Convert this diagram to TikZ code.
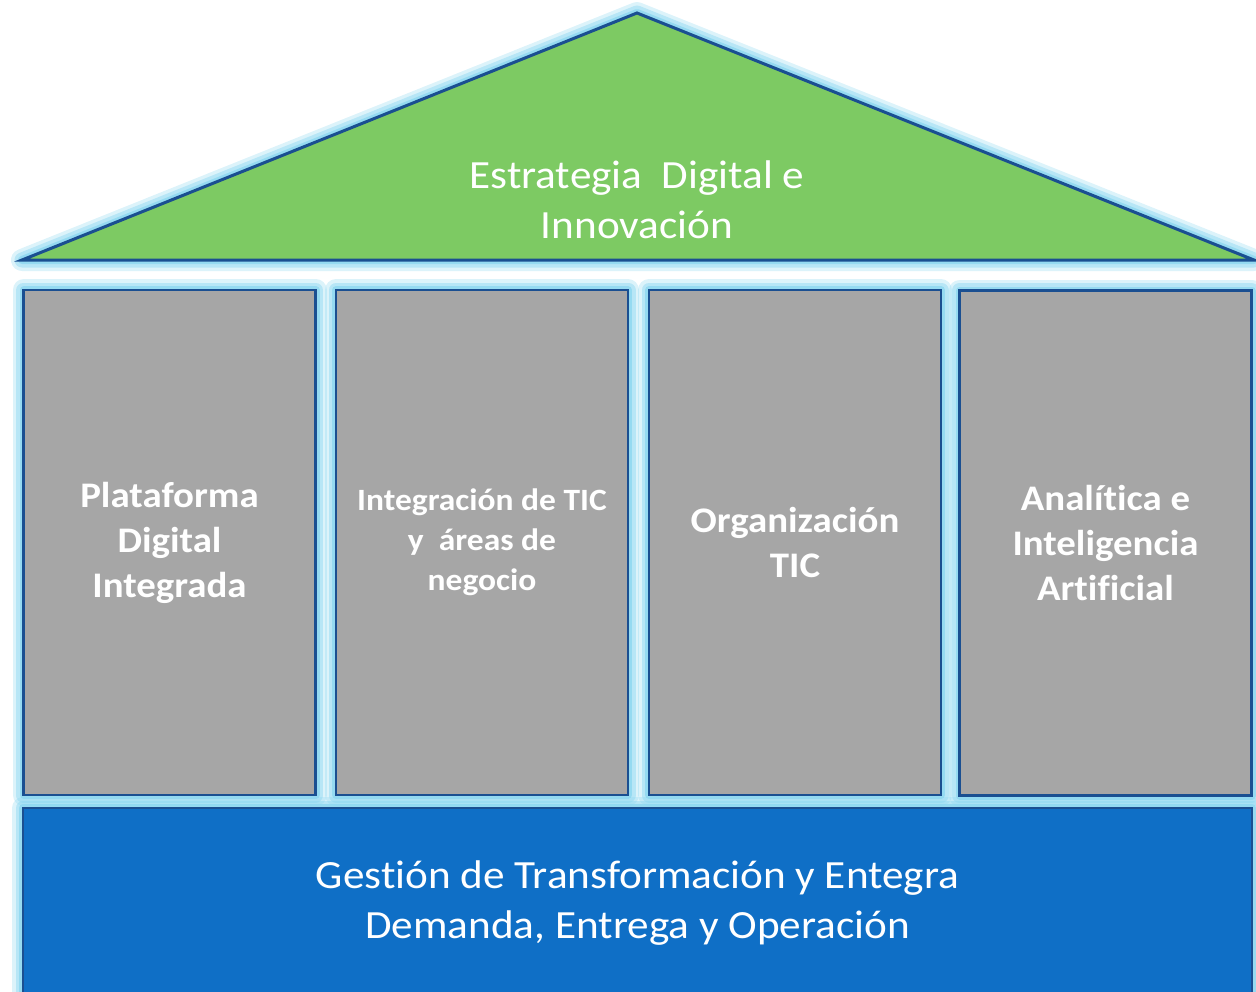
\documentclass[tikz,border=0pt]{standalone}
\usepackage{fontspec}
\setmainfont{Carlito}[FakeStretch=1.08, Ligatures=NoCommon]
\definecolor{roofgreen}{HTML}{7DCA63}
\definecolor{pillargray}{HTML}{A6A6A6}
\definecolor{basecolor}{HTML}{0F6FC6}
\definecolor{edgeblue}{HTML}{1A4F91}
\definecolor{glowblue}{HTML}{8AD6F0}
\tikzset{
  glow/.style={preaction={draw=glowblue, line width=22pt, opacity=0.3, line join=round},
               preaction={draw=glowblue, line width=15pt, opacity=0.45, line join=round},
               preaction={draw=glowblue, line width=8pt, opacity=0.75, line join=round}},
  pillar/.style={glow, draw=edgeblue, line width=2.5pt, fill=pillargray,
                 minimum width=292pt, minimum height=505pt, inner sep=0pt,
                 text=white, align=center, font=\bfseries\fontsize{36}{45}\selectfont},
  basebar/.style={glow, draw=edgeblue, line width=2.5pt, fill=basecolor,
                  minimum width=1229pt, minimum height=190pt, inner sep=0pt,
                  text=white, align=center, font=\fontsize{40}{50}\selectfont},
  roof/.style={glow, draw=edgeblue, line width=3pt, fill=roofgreen}
}
\begin{document}
\begin{tikzpicture}[x=1pt, y=-1pt]
  \useasboundingbox (0,0) rectangle (1256,991);
  \clip (0,0) rectangle (1256,991);
  % roof
  \draw[roof] (22,260) -- (637,13) -- (1254,260) -- cycle;
  \node[text=white, align=center, font=\fontsize{40}{50}\selectfont] (estrategia) at (637,200) {Estrategia\ \ Digital e\\Innovación};
  % pillars
  \node[pillar] (plataforma) at (169.5,542.5) {Plataforma\\Digital\\Integrada};
  \node[pillar, font=\bfseries\fontsize{31}{40}\selectfont] (integracion) at (482,542.5) {Integración de TIC\\y\ \ áreas de\\negocio};
  \node[pillar] (organizacion) at (795,542.5) {Organización\\TIC};
  \node[pillar] (analitica) at (1105.5,543) {Analítica e\\Inteligencia\\Artificial};
  % base
  \node[basebar] (gestion) at (637.5,903) {Gestión de Transformación y Entegra\\Demanda, Entrega y Operación};
\end{tikzpicture}
\end{document}
